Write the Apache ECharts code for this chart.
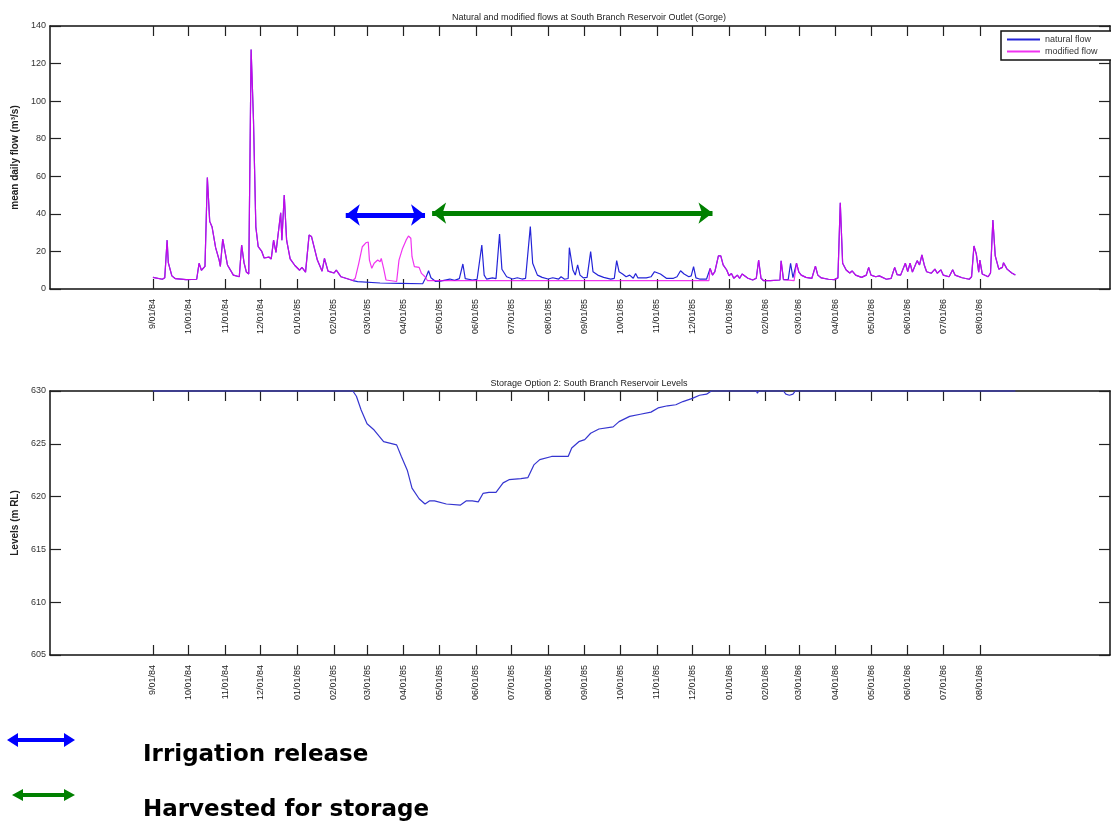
<!DOCTYPE html>
<html>
<head>
<meta charset="utf-8">
<title>South Branch Reservoir</title>
<script src="https://cdn.jsdelivr.net/npm/echarts@6.0.0/dist/echarts.min.js"></script>
<style>
  html, body { margin: 0; padding: 0; background: #fff; }
  #main { width: 1111px; height: 825px; }
</style>
</head>
<body>
<div id="main"></div>
<script>
// x轴刻度（每月1日）
var tickDates = ['1984-09-01','1984-10-01','1984-11-01','1984-12-01','1985-01-01','1985-02-01','1985-03-01','1985-04-01',
  '1985-05-01','1985-06-01','1985-07-01','1985-08-01','1985-09-01','1985-10-01','1985-11-01','1985-12-01',
  '1986-01-01','1986-02-01','1986-03-01','1986-04-01','1986-05-01','1986-06-01','1986-07-01','1986-08-01'];
var tickLabels = ['9/01/84','10/01/84','11/01/84','12/01/84','01/01/85','02/01/85','03/01/85','04/01/85',
  '05/01/85','06/01/85','07/01/85','08/01/85','09/01/85','10/01/85','11/01/85','12/01/85',
  '01/01/86','02/01/86','03/01/86','04/01/86','05/01/86','06/01/86','07/01/86','08/01/86'];

// natural flow (m3/s)
var naturalDates = ['1984-09-01','1984-09-09','1984-09-11','1984-09-13','1984-09-14','1984-09-17','1984-09-20','1984-09-29',
  '1984-10-08','1984-10-10','1984-10-12','1984-10-15','1984-10-17','1984-10-19','1984-10-21','1984-10-24','1984-10-27',
  '1984-10-28','1984-10-30','1984-11-03','1984-11-08','1984-11-13','1984-11-15','1984-11-17','1984-11-19','1984-11-21',
  '1984-11-23','1984-11-25','1984-11-27','1984-11-29','1984-12-02','1984-12-04','1984-12-08','1984-12-10','1984-12-12',
  '1984-12-14','1984-12-18','1984-12-19','1984-12-21','1984-12-23','1984-12-26','1984-12-30','1985-01-03','1985-01-05',
  '1985-01-08','1985-01-11','1985-01-13','1985-01-18','1985-01-22','1985-01-24','1985-01-27','1985-02-01','1985-02-03',
  '1985-02-07','1985-02-17','1985-02-21','1985-03-12','1985-03-29','1985-04-17','1985-04-20','1985-04-22','1985-04-24',
  '1985-04-28','1985-05-02','1985-05-10','1985-05-14','1985-05-18','1985-05-21','1985-05-23','1985-05-29','1985-06-02',
  '1985-06-06','1985-06-08','1985-06-10','1985-06-15','1985-06-18','1985-06-21','1985-06-23','1985-06-27','1985-07-02',
  '1985-07-06','1985-07-10','1985-07-13','1985-07-17','1985-07-19','1985-07-23','1985-07-27','1985-08-01','1985-08-05',
  '1985-08-10','1985-08-12','1985-08-15','1985-08-18','1985-08-19','1985-08-22','1985-08-24','1985-08-26','1985-08-28',
  '1985-08-31','1985-09-03','1985-09-06','1985-09-08','1985-09-12','1985-09-17','1985-09-23','1985-09-26','1985-09-28',
  '1985-09-30','1985-10-03','1985-10-06','1985-10-09','1985-10-12','1985-10-14','1985-10-16','1985-10-23','1985-10-27',
  '1985-10-30','1985-11-04','1985-11-09','1985-11-15','1985-11-18','1985-11-21','1985-11-24','1985-11-28','1985-11-30',
  '1985-12-02','1985-12-04','1985-12-07','1985-12-13','1985-12-16','1985-12-18','1985-12-20','1985-12-23','1985-12-25',
  '1985-12-27','1985-12-30','1986-01-01','1986-01-03','1986-01-05','1986-01-08','1986-01-10','1986-01-12','1986-01-17',
  '1986-01-21','1986-01-24','1986-01-26','1986-01-28','1986-01-30','1986-02-05','1986-02-13','1986-02-14','1986-02-16',
  '1986-02-20','1986-02-22','1986-02-24','1986-02-27','1986-03-01','1986-03-03','1986-03-07','1986-03-12','1986-03-15',
  '1986-03-17','1986-03-20','1986-03-26','1986-03-31','1986-04-03','1986-04-05','1986-04-07','1986-04-10','1986-04-13',
  '1986-04-15','1986-04-18','1986-04-23','1986-04-27','1986-04-29','1986-05-01','1986-05-05','1986-05-08','1986-05-14',
  '1986-05-18','1986-05-21','1986-05-23','1986-05-26','1986-05-30','1986-06-01','1986-06-03','1986-06-05','1986-06-09',
  '1986-06-11','1986-06-13','1986-06-15','1986-06-17','1986-06-21','1986-06-24','1986-06-26','1986-06-29','1986-07-01',
  '1986-07-06','1986-07-09','1986-07-11','1986-07-17','1986-07-23','1986-07-25','1986-07-27','1986-07-29','1986-07-31',
  '1986-08-01','1986-08-03','1986-08-08','1986-08-10','1986-08-12','1986-08-14','1986-08-17','1986-08-20','1986-08-21',
  '1986-08-24','1986-08-28','1986-08-31'];
var naturalFlow = [6.2,5.2,6,26,14,7,5.5,5,
  5.2,13.7,10,12,59.4,36,33,22,15.4,
  12,26.6,12.8,7.4,6.5,23.4,14,9,8,
  127.5,90,33,22.5,20,16.5,17,16,26,
  19.5,40.6,26,50,26,16,12.5,10,11.5,
  9,28.7,28,15.4,9.5,16.3,9.5,8.5,10,
  6.5,4.5,3.9,3.2,3,2.8,6.5,9.7,6,
  4,4.2,5.3,4.6,5.5,13.3,5.5,4.8,5.2,
  23.4,7.4,5.3,5.9,5.5,29.3,10.5,6.5,5.3,
  6,5.3,5.7,33.2,13.7,7.4,6.2,5.3,6,
  5.3,6.5,5.2,5.6,22,10.1,7.4,12.8,7.4,
  5.9,6.2,19.9,9.2,7.4,6.2,5.3,5.7,15.1,
  9.2,8,6.5,7.4,5.7,8.3,5.9,5.9,6.5,
  9.2,8,5.7,5.7,6.5,9.7,8,6.5,7,
  11.9,5.9,5.3,5.3,11,7.4,9.2,17.6,17.6,
  12.8,10.1,7,8.3,5.7,7.4,5.7,8,5.7,
  4.8,5.7,15.4,5.7,4.5,4.5,4.8,15,5,
  5,13.7,6,13.7,9,7.4,6.2,5.7,12.2,
  7.4,5.9,5.2,5,5.9,45.9,13.7,10.1,8.5,
  9.6,7.4,6.2,7.4,11.5,7.4,6.5,7,5.2,
  5.7,11.5,7.7,7.4,13.7,9.3,13.7,9,15.1,
  12.8,18.1,12.8,9.2,8.4,10.6,8.4,10.2,7.4,
  6.5,10.2,7.4,6,5.2,6.5,22.9,18.6,9,
  15.4,8,6.5,8.5,36.7,17.6,10.6,11.5,14,
  10.6,8.5,7.4];

// modified flow: 与natural flow相同，下面两段除外（放水灌溉 + 蓄水）
var releaseDates = ['1985-02-17','1985-02-19','1985-02-22','1985-02-25','1985-02-28','1985-03-02','1985-03-03','1985-03-05',
  '1985-03-07','1985-03-10','1985-03-12','1985-03-13','1985-03-15','1985-03-17','1985-03-26','1985-03-28','1985-03-31',
  '1985-04-03','1985-04-05','1985-04-07','1985-04-08','1985-04-10','1985-04-14','1985-04-16','1985-04-19','1985-04-21',
  '1985-12-15'];
var releaseFlow = [4.5,5.7,13.7,22.5,24.6,25,15.4,11,
  13.7,15.4,14.5,16.3,11,4.8,4,15.4,21.6,
  26,28.2,27,17.2,11.9,11.5,8.3,6.5,4.5,
  4.5];
var harvest2Dates = ['1986-02-17','1986-02-25'];
var harvest2Flow = [4.5,4.5];

// reservoir level (m RL)
var levelDates = ['1984-09-01','1985-02-17','1985-02-20','1985-02-24','1985-03-01','1985-03-07','1985-03-15','1985-03-26',
  '1985-03-30','1985-04-04','1985-04-08','1985-04-14','1985-04-19','1985-04-23','1985-04-27','1985-05-07','1985-05-19',
  '1985-05-24','1985-05-29','1985-06-03','1985-06-07','1985-06-12','1985-06-18','1985-06-24','1985-06-29','1985-07-09',
  '1985-07-15','1985-07-20','1985-07-25','1985-08-04','1985-08-18','1985-08-21','1985-08-27','1985-09-01','1985-09-06',
  '1985-09-13','1985-09-25','1985-09-30','1985-10-09','1985-10-18','1985-10-27','1985-11-02','1985-11-10','1985-11-17',
  '1985-11-23','1985-12-01','1985-12-07','1985-12-13','1985-12-17','1986-01-24','1986-01-25','1986-01-26','1986-02-16',
  '1986-02-18','1986-02-21','1986-02-24','1986-02-26','1986-08-31'];
var levelValues = [630,630,629.5,628.2,626.9,626.3,625.2,624.9,
  623.8,622.5,620.8,619.8,619.3,619.6,619.6,619.3,619.2,
  619.6,619.6,619.5,620.3,620.4,620.4,621.3,621.6,621.7,
  621.8,623,623.5,623.8,623.8,624.6,625.2,625.4,626,
  626.4,626.6,627.1,627.6,627.8,628,628.4,628.6,628.7,
  629,629.3,629.6,629.7,630,630,629.8,630,630,
  629.7,629.6,629.7,630,630];

var font = 'Liberation Sans, Arial, sans-serif';

// 日期 -> 时间戳
function t(s) {
    var p = s.split('-');
    return new Date(+p[0], +p[1] - 1, +p[2]).getTime();
}
function pairs(dates, vals) {
    var out = [];
    for (var i = 0; i < dates.length; i++) out.push([t(dates[i]), vals[i]]);
    return out;
}

/**
 * modified = natural，替换掉各个时段
 */
function buildModified() {
    var segs = [[releaseDates, releaseFlow], [harvest2Dates, harvest2Flow]];
    var nat = pairs(naturalDates, naturalFlow);
    var out = [];
    for (var i = 0; i < nat.length; i++) {
        var inside = false;
        for (var k = 0; k < segs.length; k++) {
            var a = t(segs[k][0][0]), b = t(segs[k][0][segs[k][0].length - 1]);
            if (nat[i][0] >= a && nat[i][0] <= b) inside = true;
        }
        if (!inside) out.push(nat[i]);
    }
    for (var k = 0; k < segs.length; k++) out = out.concat(pairs(segs[k][0], segs[k][1]));
    out.sort(function (x, y) { return x[0] - y[0]; });
    return out;
}

var tickTimes = tickDates.map(t);
var xMin = t('1984-06-06');
var xMax = t('1986-11-19');

function xAxisOf(grid, pos) {
    return {
        type: 'value', gridIndex: grid, position: pos, min: xMin, max: xMax,
        axisLine: { show: true, onZero: false, lineStyle: { color: '#111', width: 1.5 } },
        axisTick: { show: true, inside: true, length: 10, customValues: tickTimes, lineStyle: { color: '#222', width: 1.2 } },
        axisLabel: {
            show: pos === 'bottom', rotate: 90, margin: 10, fontSize: 9, fontFamily: font, color: '#1a1a1a',
            customValues: tickTimes,
            formatter: function (v) {
                var i = tickTimes.indexOf(v);
                return i >= 0 ? tickLabels[i] : '';
            }
        },
        splitLine: { show: false }
    };
}
function yAxisOf(grid, pos, min, max, step, name) {
    return {
        type: 'value', gridIndex: grid, position: pos, min: min, max: max, interval: step,
        name: name, nameLocation: 'middle', nameGap: 25,
        nameTextStyle: { fontSize: 10, fontFamily: font, color: '#222', fontWeight: 'bold' },
        axisLine: { show: true, onZero: false, lineStyle: { color: '#111', width: 1.5 } },
        axisTick: { show: true, inside: true, length: 11, lineStyle: { color: '#222', width: 1.2 } },
        axisLabel: { show: pos === 'left', margin: 4, fontSize: 9, fontFamily: font, color: '#333' },
        splitLine: { show: false }
    };
}

var myChart = echarts.init(document.getElementById('main'));

var option = {
    backgroundColor: '#fff',
    animation: false,
    title: [
        { text: 'Natural and modified flows at South Branch Reservoir Outlet (Gorge)', left: 584, top: 8, textAlign: 'center',
          textStyle: { fontSize: 9, fontWeight: 'normal', fontFamily: font, color: '#222' } },
        { text: 'Storage Option 2: South Branch Reservoir Levels', left: 584, top: 374, textAlign: 'center',
          textStyle: { fontSize: 9, fontWeight: 'normal', fontFamily: font, color: '#222' } }
    ],
    legend: {
        left: 1001, top: 31, orient: 'vertical', icon: 'rect', itemWidth: 33, itemHeight: 2, itemGap: 3,
        padding: [4, 18, 4, 6], borderColor: '#111', borderWidth: 1.5, backgroundColor: '#fff',
        textStyle: { fontSize: 9, fontFamily: font, color: '#333' },
        data: ['natural flow', 'modified flow']
    },
    grid: [
        { left: 50, top: 26, width: 1060, height: 263 },
        { left: 50, top: 391, width: 1060, height: 264 }
    ],
    xAxis: [xAxisOf(0, 'bottom'), xAxisOf(0, 'top'), xAxisOf(1, 'bottom'), xAxisOf(1, 'top')],
    yAxis: [
        yAxisOf(0, 'left', 0, 140, 20, 'mean daily flow (m³/s)'),
        yAxisOf(0, 'right', 0, 140, 20, ''),
        yAxisOf(1, 'left', 605, 630, 5, 'Levels (m RL)'),
        yAxisOf(1, 'right', 605, 630, 5, '')
    ],
    series: [
        {
            name: 'natural flow', type: 'line', xAxisIndex: 0, yAxisIndex: 0,
            data: pairs(naturalDates, naturalFlow), showSymbol: false, color: '#2424d8',
            lineStyle: { width: 1.2 }
        },
        {
            name: 'modified flow', type: 'line', xAxisIndex: 0, yAxisIndex: 0,
            data: buildModified(), showSymbol: false, color: 'rgba(236,0,236,0.8)',
            lineStyle: { width: 1.2 },
            markLine: {
                silent: true, symbol: ['arrow', 'arrow'], symbolSize: [16, 14],
                label: { show: false },
                data: [
                    [{ coord: [t('1985-02-11'), 39.4], lineStyle: { color: '#0000ff', width: 5, type: 'solid' } },
                     { coord: [t('1985-04-19'), 39.4], lineStyle: { color: '#0000ff', width: 5, type: 'solid' } }],
                    [{ coord: [t('1985-04-25'), 40.4], lineStyle: { color: '#008000', width: 5, type: 'solid' } },
                     { coord: [t('1985-12-18'), 40.4], lineStyle: { color: '#008000', width: 5, type: 'solid' } }]
                ]
            }
        },
        {
            name: 'level', type: 'line', xAxisIndex: 2, yAxisIndex: 2,
            data: pairs(levelDates, levelValues), showSymbol: false, color: '#3535d0',
            lineStyle: { width: 1.2 }, clip: false
        }
    ],
    graphic: [
        { type: 'polygon', shape: { points: [[7,740],[18,733],[18,738],[64,738],[64,733],[75,740],[64,747],[64,742],[18,742],[18,747]] },
          style: { fill: '#0000ff' } },
        { type: 'polygon', shape: { points: [[12,795],[23,789],[23,793],[64,793],[64,789],[75,795],[64,801],[64,797],[23,797],[23,801]] },
          style: { fill: '#008000' } },
        { type: 'text', left: 143, top: 744, style: { text: 'Irrigation release', font: 'bold 23px DejaVu Sans, sans-serif', fill: '#000' } },
        { type: 'text', left: 143, top: 799, style: { text: 'Harvested for storage', font: 'bold 23px DejaVu Sans, sans-serif', fill: '#000' } }
    ]
};

myChart.setOption(option);
</script>
</body>
</html>
